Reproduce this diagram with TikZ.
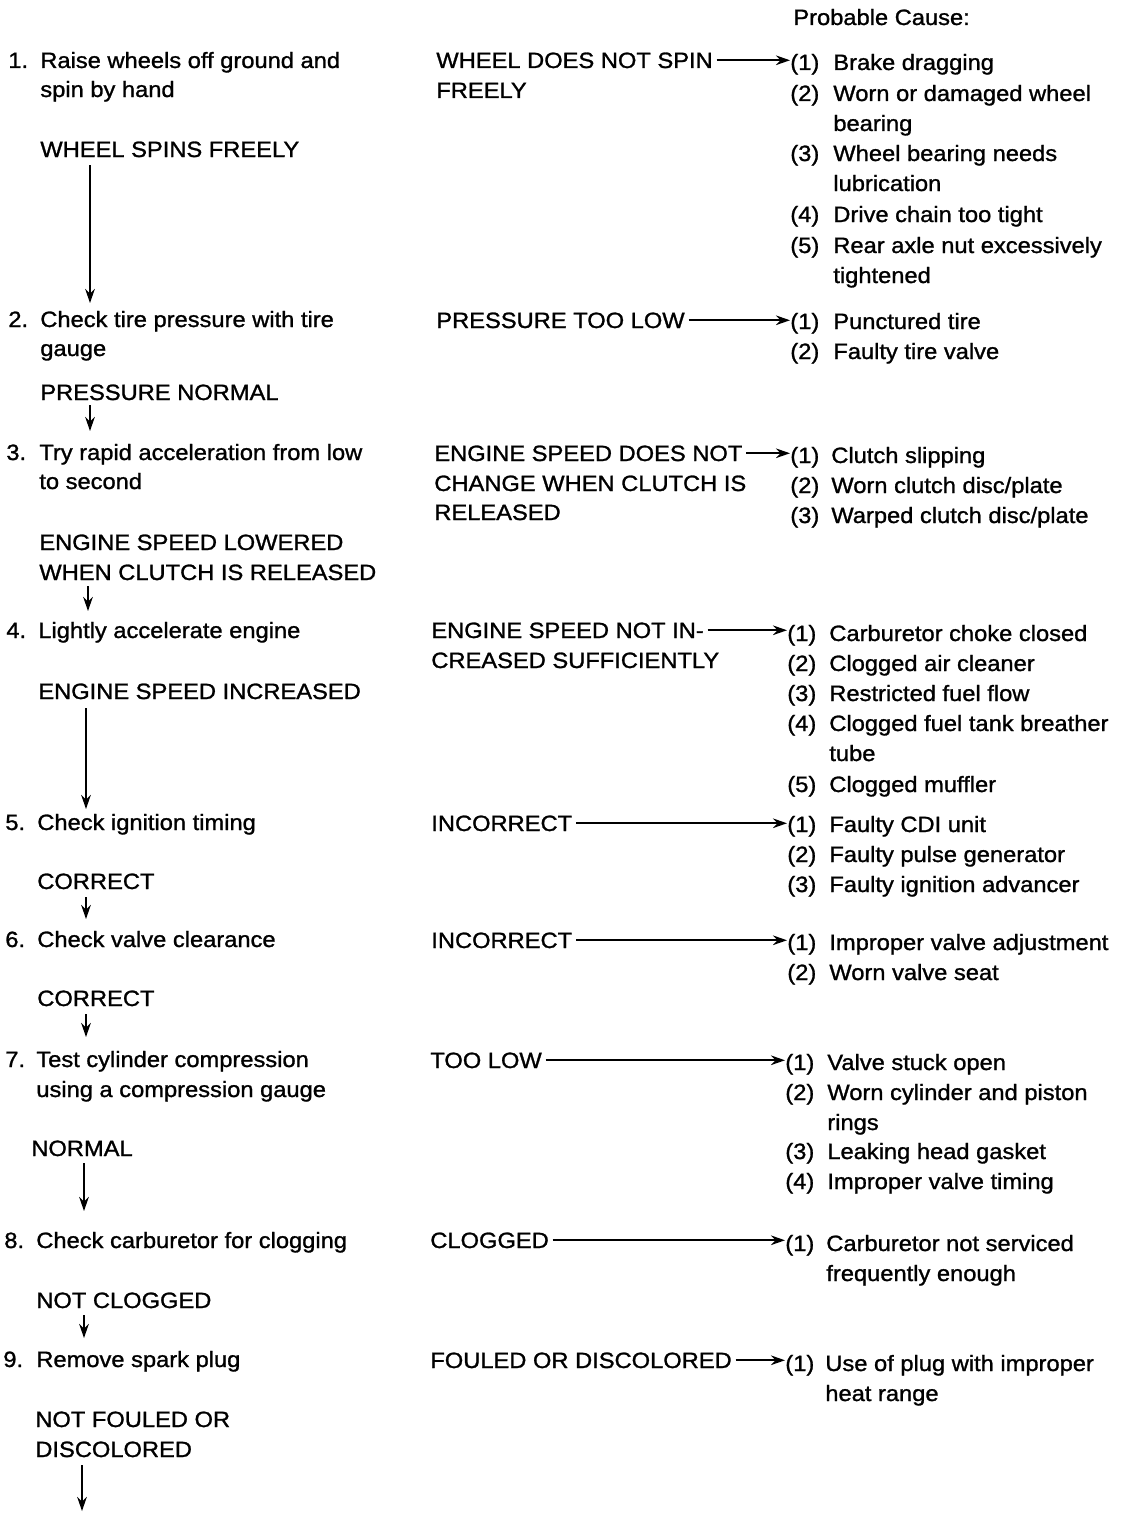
\documentclass[tikz,border=0pt]{standalone}
\usepackage{fontspec}
\setmainfont[FakeStretch=1.07,FakeBold=1.2]{Liberation Sans}
\usetikzlibrary{arrows.meta}
\begin{document}
\begin{tikzpicture}[x=0.02cm,y=-0.02cm,
  txt/.style={anchor=base west,inner sep=0pt,font=\fontsize{12.6pt}{14pt}\selectfont},
  arr/.style={-{Stealth[length=8pt,width=5.5pt]},line width=0.9pt}]
\useasboundingbox (0,0) rectangle (1120,1514);
\newcommand\T[4]{\node[txt] (#1) at (#2,#3) {#4};}
% header
\T{hdr}{793}{25}{Probable Cause:}
% left column
\T{s1}{8}{68}{1.}\T{s1a}{40}{68}{Raise wheels off ground and}\T{s1b}{40}{97}{spin by hand}
\T{r1}{40}{157}{WHEEL SPINS FREELY}
\T{s2}{8}{327}{2.}\T{s2a}{40}{327}{Check tire pressure with tire}\T{s2b}{40}{356}{gauge}
\T{r2}{40}{400}{PRESSURE NORMAL}
\T{s3}{6}{460}{3.}\T{s3a}{39}{460}{Try rapid acceleration from low}\T{s3b}{39}{489}{to second}
\T{r3}{39}{550}{ENGINE SPEED LOWERED}\T{r3b}{39}{580}{WHEN CLUTCH IS RELEASED}
\T{s4}{6}{638}{4.}\T{s4a}{38}{638}{Lightly accelerate engine}
\T{r4}{38}{699}{ENGINE SPEED INCREASED}
\T{s5}{5}{830}{5.}\T{s5a}{37}{830}{Check ignition timing}
\T{r5}{37}{889}{CORRECT}
\T{s6}{5}{947}{6.}\T{s6a}{37}{947}{Check valve clearance}
\T{r6}{37}{1006}{CORRECT}
\T{s7}{5}{1067}{7.}\T{s7a}{36}{1067}{Test cylinder compression}\T{s7b}{36}{1097}{using a compression gauge}
\T{r7}{31}{1156}{NORMAL}
\T{s8}{4}{1248}{8.}\T{s8a}{36}{1248}{Check carburetor for clogging}
\T{r8}{36}{1308}{NOT CLOGGED}
\T{s9}{3}{1367}{9.}\T{s9a}{36}{1367}{Remove spark plug}
\T{r9}{35}{1427}{NOT FOULED OR}\T{r9b}{35}{1457}{DISCOLORED}
% middle column
\T{m1}{436}{68}{WHEEL DOES NOT SPIN}\T{m1b}{436}{98}{FREELY}
\T{m2}{436}{328}{PRESSURE TOO LOW}
\T{m3}{434}{461}{ENGINE SPEED DOES NOT}\T{m3b}{434}{491}{CHANGE WHEN CLUTCH IS}\T{m3c}{434}{520}{RELEASED}
\T{m4}{431}{638}{ENGINE SPEED NOT IN-}\T{m4b}{431}{668}{CREASED SUFFICIENTLY}
\T{m5}{431}{831}{INCORRECT}
\T{m6}{431}{948}{INCORRECT}
\T{m7}{430}{1068}{TOO LOW}
\T{m8}{430}{1248}{CLOGGED}
\T{m9}{430}{1368}{FOULED OR DISCOLORED}
% right column
\T{c1}{790}{70}{(1)}\T{c1a}{833}{70}{Brake dragging}
\T{c1n2}{790}{101}{(2)}\T{c1b}{833}{101}{Worn or damaged wheel}\T{c1bb}{833}{131}{bearing}
\T{c1n3}{790}{161}{(3)}\T{c1c}{833}{161}{Wheel bearing needs}\T{c1cc}{833}{191}{lubrication}
\T{c1n4}{790}{222}{(4)}\T{c1d}{833}{222}{Drive chain too tight}
\T{c1n5}{790}{253}{(5)}\T{c1e}{833}{253}{Rear axle nut excessively}\T{c1ee}{833}{283}{tightened}
\T{c2}{790}{329}{(1)}\T{c2a}{833}{329}{Punctured tire}
\T{c2n2}{790}{359}{(2)}\T{c2b}{833}{359}{Faulty tire valve}
\T{c3}{790}{463}{(1)}\T{c3a}{831}{463}{Clutch slipping}
\T{c3n2}{790}{493}{(2)}\T{c3b}{831}{493}{Worn clutch disc/plate}
\T{c3n3}{790}{523}{(3)}\T{c3c}{831}{523}{Warped clutch disc/plate}
\T{c4}{787}{641}{(1)}\T{c4a}{829}{641}{Carburetor choke closed}
\T{c4n2}{787}{671}{(2)}\T{c4b}{829}{671}{Clogged air cleaner}
\T{c4n3}{787}{701}{(3)}\T{c4c}{829}{701}{Restricted fuel flow}
\T{c4n4}{787}{731}{(4)}\T{c4d}{829}{731}{Clogged fuel tank breather}\T{c4dd}{829}{761}{tube}
\T{c4n5}{787}{792}{(5)}\T{c4e}{829}{792}{Clogged muffler}
\T{c5}{787}{832}{(1)}\T{c5a}{829}{832}{Faulty CDI unit}
\T{c5n2}{787}{862}{(2)}\T{c5b}{829}{862}{Faulty pulse generator}
\T{c5n3}{787}{892}{(3)}\T{c5c}{829}{892}{Faulty ignition advancer}
\T{c6}{787}{950}{(1)}\T{c6a}{829}{950}{Improper valve adjustment}
\T{c6n2}{787}{980}{(2)}\T{c6b}{829}{980}{Worn valve seat}
\T{c7}{785}{1070}{(1)}\T{c7a}{827}{1070}{Valve stuck open}
\T{c7n2}{785}{1100}{(2)}\T{c7b}{827}{1100}{Worn cylinder and piston}\T{c7bb}{827}{1130}{rings}
\T{c7n3}{785}{1159}{(3)}\T{c7c}{827}{1159}{Leaking head gasket}
\T{c7n4}{785}{1189}{(4)}\T{c7d}{827}{1189}{Improper valve timing}
\T{c8}{785}{1251}{(1)}\T{c8a}{826}{1251}{Carburetor not serviced}\T{c8aa}{826}{1281}{frequently enough}
\T{c9}{785}{1371}{(1)}\T{c9a}{825}{1371}{Use of plug with improper}\T{c9aa}{825}{1401}{heat range}
% horizontal arrows
\foreach \m/\c in {m1/c1,m2/c2,m3/c3,m4/c4,m5/c5,m6/c6,m7/c7,m8/c8,m9/c9}
  \draw[arr] ([xshift=2pt,yshift=4.4pt]\m.base east) -- ([yshift=4.4pt]\m.base east -| \c.west);
% vertical arrows
\coordinate (v1a) at (90,165); \coordinate (v1b) at (90,303);
\coordinate (v2a) at (90,405); \coordinate (v2b) at (90,431);
\coordinate (v3a) at (88,586); \coordinate (v3b) at (88,611);
\coordinate (v4a) at (86,708); \coordinate (v4b) at (86,809);
\coordinate (v5a) at (86,897); \coordinate (v5b) at (86,919);
\coordinate (v6a) at (86,1014); \coordinate (v6b) at (86,1037);
\coordinate (v7a) at (84,1163); \coordinate (v7b) at (84,1211);
\coordinate (v8a) at (84,1315); \coordinate (v8b) at (84,1338);
\coordinate (v9a) at (82,1465); \coordinate (v9b) at (82,1511);
\foreach \i in {1,...,9} \draw[arr] (v\i a) -- (v\i b);
\end{tikzpicture}
\end{document}
